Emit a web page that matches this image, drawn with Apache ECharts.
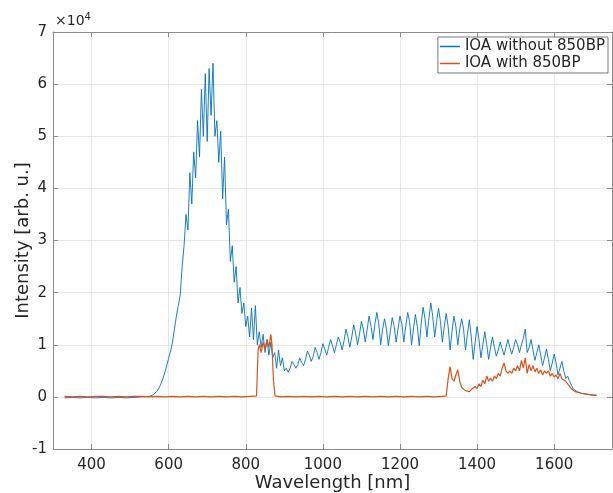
<!DOCTYPE html>
<html>
<head>
<meta charset="utf-8">
<script src="https://cdn.jsdelivr.net/npm/echarts@6/dist/echarts.min.js"></script>
<style>html,body{margin:0;padding:0;background:#fff;}#c{width:613px;height:493px;}</style>
</head>
<body>
<div id="c"></div>
<script>
// ---- data (intensity in units of 1e4) ----
const seriesNames = ['IOA without 850BP', 'IOA with 850BP'];
const xTickLabels = [400, 600, 800, 1000, 1200, 1400, 1600];
const yTickLabels = [-1, 0, 1, 2, 3, 4, 5, 6, 7];

const blueWl = [
  330,350,370,390,410,430,450,470,490,510,530,550,
  555,560,565,570,575,580,585,590,595,600,
  605,610,615,620,625,630,635,640,645,650,
  655,660,665,670,675,680,685,690,695,700,
  705,710,715,720,725,730,735,740,745,750,
  755,760,765,770,775,780,785,790,795,800,
  805,810,815,820,825,830,835,840,845,850,
  855,860,865,870,875,880,885,890,895,900,
  905,910,915,920,925,930,935,940,945,950,
  955,960,965,970,975,980,985,990,995,1000,
  1005,1010,1015,1020,1025,1030,1035,1040,1045,1050,
  1055,1060,1065,1070,1075,1080,1085,1090,1095,1100,
  1105,1110,1115,1120,1125,1130,1135,1140,1145,1150,
  1155,1160,1165,1170,1175,1180,1185,1190,1195,1200,
  1205,1210,1215,1220,1225,1230,1235,1240,1245,1250,
  1255,1260,1265,1270,1275,1280,1285,1290,1295,1300,
  1305,1310,1315,1320,1325,1330,1335,1340,1345,1350,
  1355,1360,1365,1370,1375,1380,1385,1390,1395,1400,
  1405,1410,1415,1420,1425,1430,1435,1440,1445,1450,
  1455,1460,1465,1470,1475,1480,1485,1490,1495,1500,
  1505,1510,1515,1520,1525,1530,1535,1540,1545,1550,
  1555,1560,1565,1570,1575,1580,1585,1590,1595,1600,
  1605,1610,1615,1620,1625,1630,1635,1640,1645,1650,
  1655,1660,1665,1670,1675,1680,1685,1690,1695,1700,
  1705,1710
];
const blueVal = [
  -0.02,-0.01,-0.02,-0.01,-0.02,-0.01,-0.02,-0.01,-0.02,-0.01,0.0,0.01,
  0.02,0.04,0.07,0.11,0.17,0.25,0.35,0.47,0.6,0.74,
  0.88,1.05,1.3,1.55,1.75,1.95,2.5,2.9,3.5,3.2,
  4.3,3.7,4.7,4.2,5.3,4.6,5.9,5.0,6.2,4.9,
  6.3,5.4,6.4,5.0,5.3,4.5,5.1,3.8,4.6,3.3,
  3.6,2.6,2.9,2.2,2.5,1.8,2.1,1.6,1.8,1.35,
  1.55,1.15,1.7,1.1,1.75,1.0,1.25,0.95,1.2,0.85,
  1.1,0.8,1.05,0.75,0.85,0.55,0.9,0.6,0.75,0.5,
  0.55,0.47,0.55,0.68,0.62,0.55,0.62,0.75,0.66,0.6,
  0.72,0.88,0.8,0.68,0.78,0.95,0.85,0.72,0.85,1.02,
  0.92,0.8,0.95,1.1,0.98,0.85,1.0,1.15,1.05,0.9,
  1.08,1.3,1.15,0.95,1.15,1.38,1.22,1.0,1.2,1.45,
  1.3,1.05,1.3,1.55,1.35,1.1,1.4,1.62,1.4,1.0,
  1.3,1.5,1.3,0.98,1.25,1.52,1.35,1.05,1.3,1.55,
  1.4,1.05,1.35,1.62,1.45,1.0,1.3,1.58,1.35,0.98,
  1.4,1.72,1.5,1.15,1.5,1.8,1.55,1.15,1.45,1.7,
  1.45,1.05,1.35,1.6,1.35,0.9,1.25,1.55,1.35,1.0,
  1.3,1.5,1.3,0.9,1.2,1.48,1.15,0.72,1.05,1.35,
  1.1,0.75,1.0,1.25,1.0,0.72,0.95,1.15,0.95,0.78,
  0.9,1.05,0.92,0.8,0.95,1.1,0.95,0.82,0.95,1.1,
  1.0,0.85,1.0,1.12,1.3,0.85,0.95,1.1,0.9,0.7,
  0.85,1.0,0.8,0.6,0.75,0.92,0.72,0.5,0.65,0.82,
  0.65,0.42,0.55,0.68,0.5,0.35,0.4,0.3,0.22,0.15,
  0.12,0.1,0.09,0.07,0.06,0.05,0.05,0.04,0.04,0.03,
  0.03,0.03
];

const orangeWl = [
  330,350,370,390,410,430,450,470,490,510,530,550,570,590,610,630,650,670,690,710,730,750,770,790,810,828,
  832,835,840,845,850,855,860,865,868,872,876,
  890,910,930,950,970,990,1010,1030,1050,1070,1090,1110,1130,1150,1170,1190,1210,1230,1250,1270,1290,1310,
  1320,1325,1330,1335,1340,1345,1350,1355,1360,1365,
  1370,1375,1380,1385,1390,1395,1400,1405,1410,1415,
  1420,1425,1430,1435,1440,1445,1450,1455,1460,1465,
  1470,1475,1480,1485,1490,1495,1500,1505,1510,1515,
  1520,1525,1530,1535,1540,1545,1550,1555,1560,1565,
  1570,1575,1580,1585,1590,1595,1600,1605,1610,1615,
  1620,1625,1630,1635,1640,1645,1650,1655,1660,
  1670,1680,1690,1700,1710
];
const orangeVal = [
  0.01,0.0,0.01,0.0,0.01,0.01,0.0,0.01,0.0,0.01,0.01,0.0,0.01,0.0,0.01,0.0,0.01,0.0,0.01,0.0,0.01,0.0,0.01,0.0,0.01,0.02,
  0.9,1.0,0.85,1.05,0.9,1.1,0.95,1.2,1.0,0.3,0.02,
  0.0,0.01,0.0,0.01,0.0,0.01,0.0,0.01,0.0,0.01,0.0,0.01,0.0,0.01,0.0,0.01,0.0,0.01,0.0,0.01,0.0,0.01,
  0.02,0.35,0.58,0.35,0.3,0.42,0.52,0.3,0.18,0.15,
  0.12,0.15,0.1,0.14,0.12,0.2,0.16,0.25,0.2,0.32,
  0.25,0.4,0.3,0.36,0.3,0.4,0.35,0.45,0.4,0.55,
  0.65,0.5,0.45,0.5,0.45,0.55,0.5,0.6,0.5,0.7,
  0.55,0.75,0.45,0.62,0.5,0.6,0.48,0.55,0.45,0.52,
  0.42,0.5,0.45,0.5,0.4,0.45,0.38,0.42,0.35,0.45,
  0.35,0.38,0.3,0.28,0.2,0.15,0.12,0.1,0.08,
  0.07,0.06,0.05,0.04,0.03
];

// ---- chart ----
const FONT = 'DejaVu Sans';
const TXT = '#262626';
const AX = '#8a8a8a';
const GRIDC = '#e6e6e6';
const xMin = 300, xMax = 1750, yMin = -1, yMax = 7;

const blueData = blueWl.map((w, i) => [w, blueVal[i]]);
const orangeData = orangeWl.map((w, i) => [w, orangeVal[i]]);

const chart = echarts.init(document.getElementById('c'), null, {renderer: 'canvas'});
chart.setOption({
  animation: false,
  backgroundColor: '#fff',
  textStyle: {fontFamily: FONT},
  grid: {left: 53, top: 32, width: 559, height: 417, containLabel: false, outerBoundsMode: 'none'},
  xAxis: [{
    type: 'value', min: xMin, max: xMax, position: 'bottom',
    name: 'Wavelength [nm]', nameLocation: 'middle', nameGap: 25, nameMoveOverlap: false,
    nameTextStyle: {fontSize: 18, color: TXT, fontFamily: FONT},
    axisLine: {show: true, onZero: false, lineStyle: {color: AX, width: 1}},
    axisTick: {show: true, inside: true, length: 5, customValues: xTickLabels, lineStyle: {color: AX}},
    axisLabel: {show: true, customValues: xTickLabels, fontSize: 15, color: TXT, margin: 9, fontFamily: FONT,
      formatter: v => String(v)},
    splitLine: {show: true, lineStyle: {color: GRIDC, width: 1}}
  }, {
    type: 'value', min: xMin, max: xMax, position: 'top',
    axisLine: {show: true, onZero: false, lineStyle: {color: AX, width: 1}},
    axisTick: {show: true, inside: true, length: 5, customValues: xTickLabels, lineStyle: {color: AX}},
    axisLabel: {show: false},
    splitLine: {show: false}
  }],
  yAxis: [{
    type: 'value', min: yMin, max: yMax, interval: 1, position: 'left',
    name: 'Intensity [arb. u.]', nameLocation: 'middle', nameGap: 21, nameRotate: 90, nameMoveOverlap: false,
    nameTextStyle: {fontSize: 18, color: TXT, fontFamily: FONT},
    axisLine: {show: true, onZero: false, lineStyle: {color: AX, width: 1}},
    axisTick: {show: true, inside: true, length: 5, lineStyle: {color: AX}},
    axisLabel: {show: true, fontSize: 15, color: TXT, margin: 6, fontFamily: FONT},
    splitLine: {show: true, lineStyle: {color: GRIDC, width: 1}}
  }, {
    type: 'value', min: yMin, max: yMax, interval: 1, position: 'right',
    axisLine: {show: true, onZero: false, lineStyle: {color: AX, width: 1}},
    axisTick: {show: true, inside: true, length: 5, lineStyle: {color: AX}},
    axisLabel: {show: false},
    splitLine: {show: false}
  }],
  legend: {
    orient: 'vertical', right: 5, top: 37,
    data: seriesNames,
    icon: 'rect',
    backgroundColor: '#fff', borderColor: '#555', borderWidth: 0.8,
    padding: [2, 3, 2, 2], itemGap: 2, itemWidth: 20, itemHeight: 1.5,
    textStyle: {fontSize: 15, color: TXT, fontFamily: FONT}
  },
  graphic: [{
    type: 'text', left: 55, top: 12, silent: true,
    style: {
      text: '×10{s|4}',
      font: '14px "DejaVu Sans"', fill: TXT,
      rich: {s: {fontSize: 10, verticalAlign: 'top', padding: [0, 0, 8, 0], fill: TXT, fontFamily: FONT}}
    }
  }],
  series: [{
    name: seriesNames[0], type: 'line', data: blueData, symbol: 'none',
    xAxisIndex: 0, yAxisIndex: 0,
    lineStyle: {color: '#0072BD', width: 0.9}, itemStyle: {color: '#0072BD'}
  }, {
    name: seriesNames[1], type: 'line', data: orangeData, symbol: 'none',
    xAxisIndex: 0, yAxisIndex: 0,
    lineStyle: {color: '#D95319', width: 1.2}, itemStyle: {color: '#D95319'}
  }]
});
</script>
</body>
</html>
